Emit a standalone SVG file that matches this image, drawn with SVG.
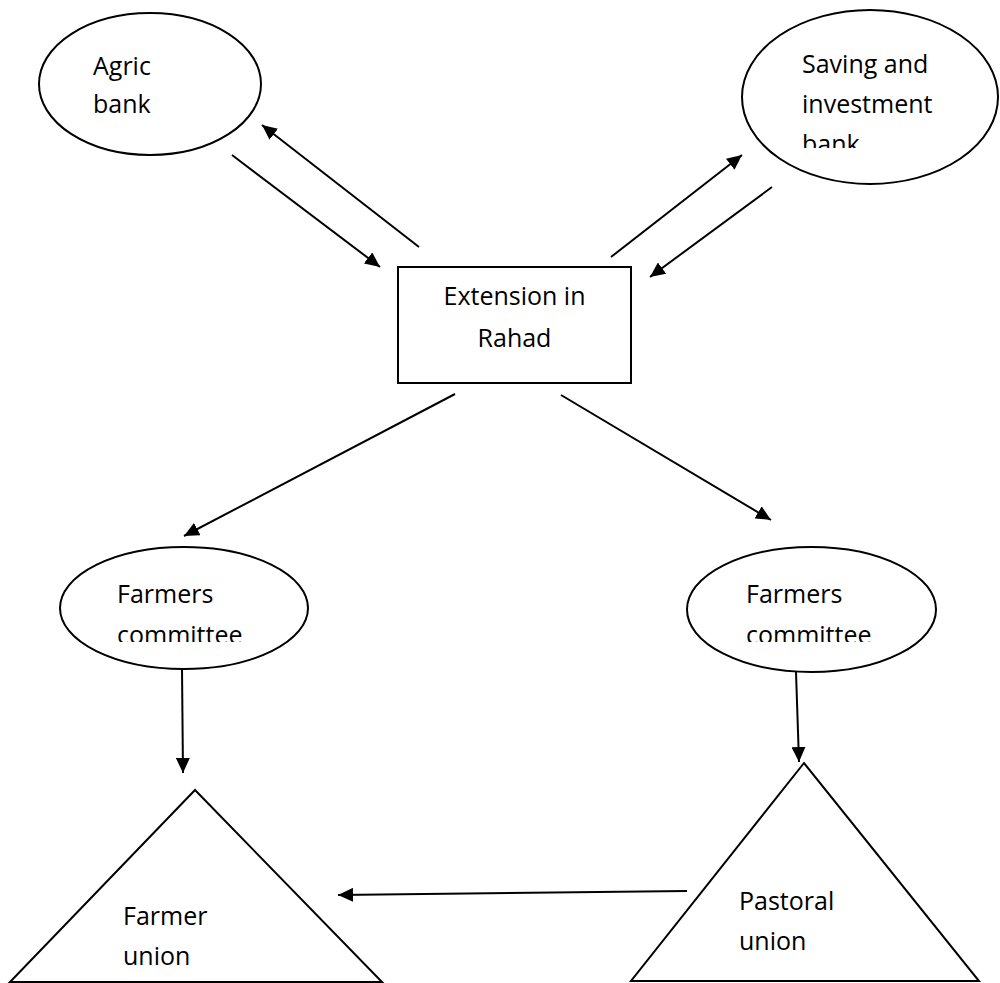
<svg xmlns="http://www.w3.org/2000/svg" width="1000" height="983" viewBox="0 0 1000 983">
<defs>
<style>
.shape{fill:#fff;stroke:#000;stroke-width:2}
.lbl{font-family:"Open Sans","Liberation Sans",sans-serif;font-size:25px;fill:#000}
.conn{stroke:#000;stroke-width:2;fill:none;marker-end:url(#ah)}
</style>
<marker id="ah" markerUnits="userSpaceOnUse" markerWidth="16" markerHeight="14" refX="15" refY="7" orient="auto">
<path d="M0,0 L15,7 L0,14 z" fill="#000"/>
</marker>
<clipPath id="clipSave"><rect x="780" y="30" width="200" height="118"/></clipPath>
<clipPath id="clipFC1"><rect x="100" y="570" width="180" height="72"/></clipPath>
<clipPath id="clipFC2"><rect x="730" y="570" width="180" height="72"/></clipPath>
</defs>
<rect width="1000" height="983" fill="#fff"/>
<g id="agric">
<ellipse class="shape" cx="150" cy="84" rx="111" ry="71"/>
<text class="lbl" x="93" y="75">Agric</text>
<text class="lbl" x="93" y="113">bank</text>
</g>
<g id="saving">
<ellipse class="shape" cx="870" cy="97" rx="128" ry="87"/>
<g clip-path="url(#clipSave)">
<text class="lbl" x="802" y="73">Saving and</text>
<text class="lbl" x="802" y="113">investment</text>
<text class="lbl" x="802" y="153">bank</text>
</g>
</g>
<g id="extension">
<rect class="shape" x="398" y="267" width="233" height="116"/>
<text class="lbl" x="514.5" y="305" text-anchor="middle">Extension in</text>
<text class="lbl" x="514.5" y="347" text-anchor="middle">Rahad</text>
</g>
<g id="committee-left">
<ellipse class="shape" cx="184" cy="608" rx="124" ry="61"/>
<g clip-path="url(#clipFC1)">
<text class="lbl" x="117" y="603">Farmers</text>
<text class="lbl" x="117" y="644">committee</text>
</g>
</g>
<g id="committee-right">
<ellipse class="shape" cx="811.5" cy="609.5" rx="124.5" ry="62.5"/>
<g clip-path="url(#clipFC2)">
<text class="lbl" x="746" y="603">Farmers</text>
<text class="lbl" x="746" y="644">committee</text>
</g>
</g>
<g id="farmer-union">
<polygon class="shape" points="195,790 10,982 382,982"/>
<text class="lbl" x="123" y="925">Farmer</text>
<text class="lbl" x="123" y="965">union</text>
</g>
<g id="pastoral-union">
<polygon class="shape" points="804,763 631,981 979,981"/>
<text class="lbl" x="739" y="910">Pastoral</text>
<text class="lbl" x="739" y="950">union</text>
</g>
<g id="connectors">
<line class="conn" x1="232" y1="155" x2="380" y2="267"/>
<line class="conn" x1="419" y1="247" x2="262" y2="125"/>
<line class="conn" x1="611" y1="257" x2="742" y2="155"/>
<line class="conn" x1="772" y1="187" x2="650" y2="277"/>
<line class="conn" x1="455" y1="394" x2="184" y2="536"/>
<line class="conn" x1="561" y1="395" x2="771" y2="520"/>
<line class="conn" x1="182" y1="669" x2="183" y2="773"/>
<line class="conn" x1="796" y1="672" x2="799" y2="762"/>
<line class="conn" x1="687" y1="891" x2="338" y2="895"/>
</g>
</svg>
